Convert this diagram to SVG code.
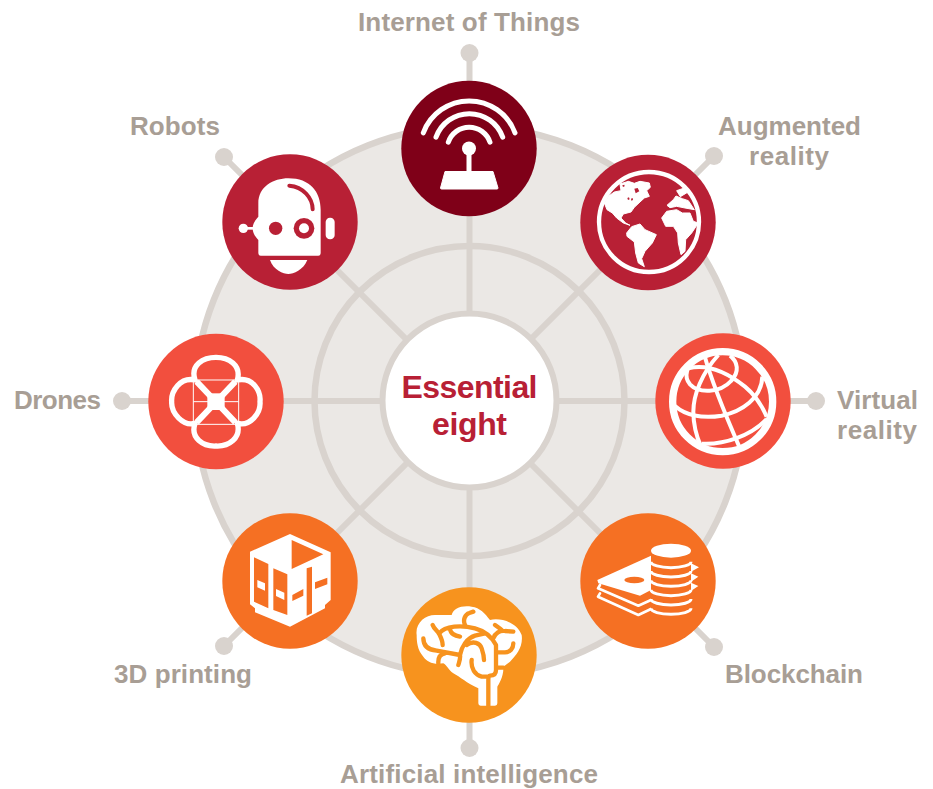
<svg xmlns="http://www.w3.org/2000/svg" width="933" height="789" viewBox="0 0 933 789">
<style>
.lbl{font:bold 26px "Liberation Sans",Arial,sans-serif;fill:#a89e95}
.ctr{font:bold 32px "Liberation Sans",Arial,sans-serif;fill:#b82035}
.w{fill:#fff}
.s{fill:none;stroke:#fff;stroke-linecap:round;stroke-linejoin:round}
.o{fill:none;stroke-linecap:round;stroke-linejoin:round}
</style>
<rect width="933" height="789" fill="#fff"/>
<g id="connectors" stroke="#d9d3ce" fill="none">
<circle cx="469.5" cy="401" r="275" fill="#ebe8e5" stroke-width="6.5"/>
<circle cx="469.5" cy="401" r="155" stroke-width="6.5"/>
<g stroke-width="6">
<path d="M469.5 53V748M122 401H816M224 157L714 647M714 156L224 646"/>
</g>
<g fill="#d9d3ce" stroke="none">
<circle cx="469.5" cy="53" r="9"/><circle cx="714" cy="156" r="9"/><circle cx="816" cy="401" r="9"/><circle cx="714" cy="647" r="9"/>
<circle cx="469.5" cy="748" r="9"/><circle cx="224" cy="646" r="9"/><circle cx="122" cy="401" r="9"/><circle cx="224" cy="157" r="9"/>
</g>
</g>
<g id="center">
<circle cx="469.5" cy="400.5" r="87" fill="#fff" stroke="#d9d3ce" stroke-width="6"/>
<text class="ctr" x="469.5" y="398" text-anchor="middle" textLength="136">Essential</text>
<text class="ctr" x="469.5" y="435" text-anchor="middle" textLength="75">eight</text>
</g>
<g id="iot">
<circle cx="469" cy="148.5" r="67.7" fill="#7f0018"/>
<g transform="translate(469 148.5)">
<path class="s" stroke-width="5" d="M-45.7-15.7A48.9 48.9 0 0 1 46-15.7M-33-11.3A35.4 35.4 0 0 1 33.7-11.3M-20.7-6.3A22 22 0 0 1 21-6.3"/>
<circle class="w" r="7"/>
<rect class="w" x="-2.5" y="0" width="5" height="25"/>
<path class="w" d="M-24 23H24L29 39.5Q29 40.5 28 40.5H-27.5Q-28.5 40.5-28.5 39.5Z" stroke="#fff" stroke-linejoin="round"/>
</g>
<text class="lbl" x="469" y="31" text-anchor="middle" textLength="222">Internet of Things</text>
</g>
<g id="augmented-reality">
<circle cx="648" cy="222.5" r="67.7" fill="#b82035"/>
<g transform="translate(595 168) scale(.33333)">
<circle cx="162" cy="162" r="150" fill="none" stroke="#fff" stroke-width="13"/>
<g fill="#fff" stroke="#fff" stroke-width="3" stroke-linejoin="round">
<path d="M75 48L100 40L118 46L135 40L163 45L166 58L155 68L163 85L148 90L135 102L118 118L108 132L85 138L78 150L92 165L105 172L85 165L65 150L52 135L36 125L28 105L40 85L58 72L78 68Z"/>
<path d="M95 195L110 176L135 168L150 185L184 200L172 225L150 250L140 272L148 296L130 285L122 255L118 222L96 205Z"/>
<path d="M200 150L215 130L245 125L262 135L285 135L295 160L310 165L290 195L272 215L270 250L258 260L250 225L248 195L235 175L212 175Z"/>
<path d="M216 112L235 95L243 84L262 92L280 98L298 125L270 120L245 115L225 119ZM245 68L268 60L276 74L256 86Z"/>
</g>
<path d="M118 62L128 60L133 70L122 76ZM97 90l5-2 2 6-5 2zM108 92l5-2 1 6-5 2zM82 52l6-2 1 5-5 2z" fill="#b82035"/>
</g>
<text class="lbl" x="718" y="135" textLength="143">Augmented</text>
<text class="lbl" x="789" y="165" text-anchor="middle" textLength="80">reality</text>
</g>
<g id="virtual-reality">
<circle cx="723" cy="401" r="67.7" fill="#f24f3e"/>
<g transform="translate(665 345) scale(.33333)" fill="none" stroke="#fff" stroke-width="12">
<circle cx="173" cy="170" r="150" stroke-width="22"/>
<path d="M95 40C65 60 55 95 75 118C100 145 165 145 198 108C225 80 218 50 195 32"/>
<path d="M30 183C60 210 110 222 170 212C230 200 290 160 292 95"/>
<path d="M110 296C180 300 260 270 305 222"/>
<path d="M70 70C130 55 190 85 240 125C270 150 290 180 305 215"/>
<path d="M160 30C110 85 85 150 85 200C85 240 95 275 108 305"/>
<path d="M118 30C140 110 190 230 225 310"/>
</g>
<text class="lbl" x="837" y="409" textLength="81">Virtual</text>
<text class="lbl" x="877" y="439" text-anchor="middle" textLength="80">reality</text>
</g>
<g id="blockchain">
<circle cx="648" cy="581" r="67.7" fill="#f57023"/>
<g transform="translate(590 535) scale(.33333)">
<path class="w" d="M22 135L183 62V165L150 182L25 145ZM303 85L327 97L303 110ZM303 115L325 125L303 140ZM303 143L325 153L303 168Z"/>
<path class="o" stroke="#fff" stroke-width="8" d="M30 150L24 160L145 212L183 195M30 175L24 185L145 240L183 222"/>
<ellipse cx="133" cy="135" rx="30" ry="10" fill="#f57023"/>
<path fill="#f57023" d="M183 62H303V250H183Z"/>
<ellipse class="w" cx="243" cy="47" rx="60" ry="21"/>
<g fill="none" stroke="#fff" stroke-width="9">
<path d="M183 80A60 18 0 0 0 303 80M183 108A60 18 0 0 0 303 108M183 136A60 18 0 0 0 303 136M183 164A60 18 0 0 0 303 164M183 192A60 18 0 0 0 303 192M183 220A60 18 0 0 0 303 220"/>
</g>
</g>
<text class="lbl" x="725" y="683" textLength="138">Blockchain</text>
</g>
<g id="artificial-intelligence">
<circle cx="469" cy="655" r="67.7" fill="#f7931e"/>
<g transform="translate(410 605) scale(.33333)">
<path class="w" d="M20 90C15 55 45 30 75 30L125 30C130 10 155 0 185 5C210 8 225 25 240 45C270 38 320 50 335 90C340 125 320 150 300 170L280 185C282 215 265 240 262 245V295Q262 302 255 302H212Q205 302 205 295V250C170 235 150 215 130 205C115 195 110 180 100 175C70 180 50 170 40 155C22 135 20 110 20 90Z"/>
<path class="o" stroke="#f7931e" stroke-width="13" d="M68 60C72 72 84 78 88 88C94 100 98 108 98 120M88 85C105 62 155 60 195 70C225 78 245 95 258 120V195Q258 212 240 212Q235 212 235 225V302M120 72C122 88 135 92 150 95M165 60C158 45 165 28 178 24L190 20M40 100C40 125 55 135 80 137L150 150C155 125 170 100 195 92L225 85M85 175C84 160 88 148 105 145M150 150C152 160 148 170 145 180M170 120C190 105 210 115 215 130C220 145 222 155 222 165M185 165C182 190 195 210 215 215H235M258 142H285C300 142 310 130 310 115M250 100C255 85 270 75 285 78L310 80M255 60C262 65 270 70 275 75M258 188H280"/>
</g>
<text class="lbl" x="340" y="783" textLength="258">Artificial intelligence</text>
</g>
<g id="printing">
<circle cx="290" cy="581" r="67.7" fill="#f57023"/>
<g transform="translate(240 525) scale(.33333)" fill="#f57023">
<path class="w" d="M150 27L272 82V225L255 240V250L150 305L45 262V250L30 238V80Z"/>
<path d="M155 45L250 88L155 132ZM42 97L85 117V250L42 230ZM100 130L142 148V270L100 255ZM200 130L216 125V265L200 272ZM157 210L190 192V212L157 228ZM225 172L262 158V178L225 192Z"/>
<path class="w" d="M52 165L75 175V197L52 187ZM108 192L133 203V225L108 213Z"/>
</g>
<text class="lbl" x="114" y="683" textLength="138">3D printing</text>
</g>
<g id="drones">
<circle cx="216" cy="401.5" r="67.7" fill="#f24f3e"/>
<g transform="translate(160 345) scale(.33333)" fill="none" stroke="#fff">
<path stroke-width="16" d="M105 105C90 60 130 37 168 37C205 37 245 60 232 105C280 95 303 140 300 170C303 205 270 245 232 235C245 280 205 305 168 303C130 305 90 280 105 235C70 245 33 205 35 170C33 140 60 95 105 105Z"/>
<path stroke-width="3" d="M100 105H236V238H100ZM100 170H236"/>
<path stroke-width="18" d="M110 110L226 232M226 110L110 232"/>
<rect class="w" x="142" y="145" width="52" height="50" stroke="none"/>
</g>
<text class="lbl" x="14" y="409" textLength="87">Drones</text>
</g>
<g id="robots">
<circle cx="290" cy="222" r="67.7" fill="#b82035"/>
<g transform="translate(230 170) scale(.33333)">
<path class="w" d="M85 100C85 50 130 25 175 25C240 25 272 65 272 120V250Q272 257 265 257H92Q85 257 85 250V210C75 200 68 188 68 175C68 160 78 148 85 140Z"/>
<circle class="w" cx="40" cy="175" r="14"/>
<path stroke="#fff" stroke-width="8" d="M40 175H75"/>
<circle cx="137" cy="175" r="20" fill="#b82035"/>
<circle cx="222" cy="175" r="31" fill="#b82035"/>
<circle class="w" cx="222" cy="175" r="15"/>
<path class="o" stroke="#b82035" stroke-width="12" d="M178 47C220 50 248 85 248 118"/>
<rect class="w" x="287" y="143" width="27" height="65" rx="13"/>
<path class="w" d="M120 270H232C220 300 190 312 175 312C160 312 130 300 120 270Z"/>
</g>
<text class="lbl" x="130" y="135" textLength="90">Robots</text>
</g>
</svg>
